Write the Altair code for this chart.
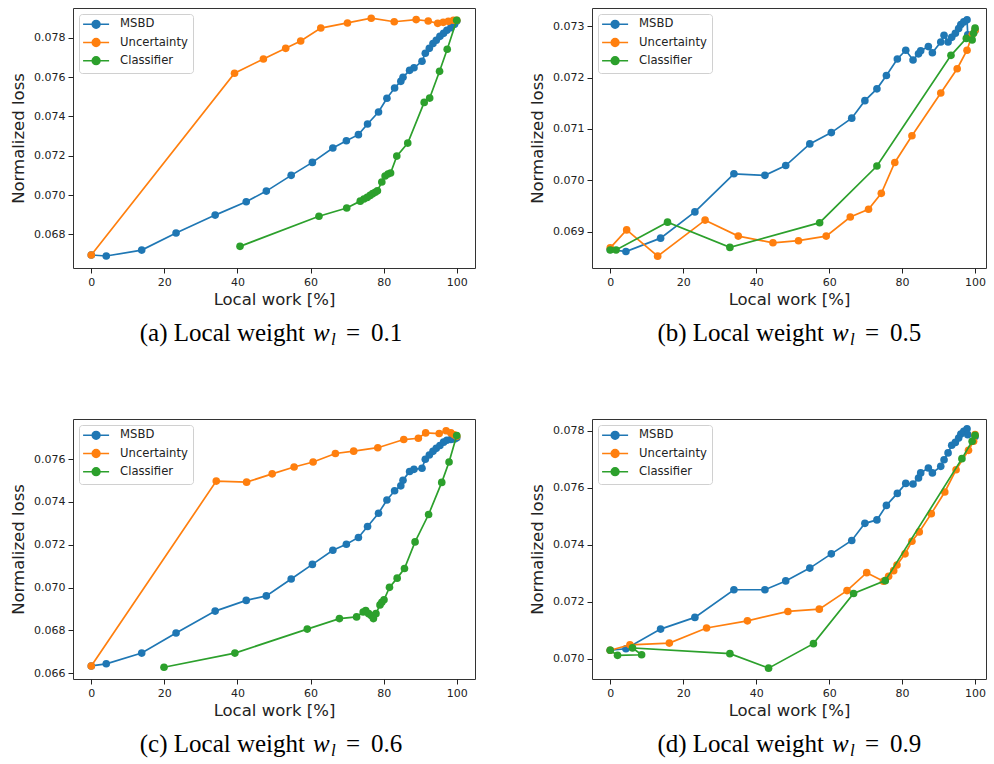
import altair as alt
import pandas as pd

SERIES = ["MSBD", "Uncertainty", "Classifier"]
COLORS = ["#1f77b4", "#ff7f0e", "#2ca02c"]
WEIGHTS = ["0.1", "0.5", "0.6", "0.9"]
LETTERS = ["a", "b", "c", "d"]
X_TICKS = [0, 20, 40, 60, 80, 100]

# ---------- panel (a): w_l = 0.1 ----------
a_msbd_x = [0, 4.1, 13.8, 23.2, 33.9, 42.4, 47.9, 54.7, 60.5, 66.1, 69.8, 73.1, 75.6, 78.6, 80.9, 83.0,
            84.7, 85.3, 87.1, 88.3, 90.5, 91.4, 92.5, 93.5, 94.4, 95.4, 96.4, 97.3, 98.4, 99.4, 100]
a_msbd_y = [0.06695, 0.06690, 0.06720, 0.06807, 0.06898, 0.06966, 0.07020, 0.07100, 0.07166, 0.07239,
            0.07276, 0.07307, 0.07361, 0.07422, 0.07492, 0.07544, 0.07578, 0.07599, 0.07634, 0.07647,
            0.07680, 0.07721, 0.07746, 0.07770, 0.07787, 0.07807, 0.07822, 0.07838, 0.07851, 0.07868, 0.07885]
a_unc_x = [0, 39.2, 47.1, 53.2, 57.3, 62.8, 70.1, 76.6, 82.9, 88.9, 92.2, 94.8, 96.3, 97.7, 99.1, 100]
a_unc_y = [0.06695, 0.07619, 0.07692, 0.07746, 0.07783, 0.07849, 0.07875, 0.07899, 0.07881, 0.07892,
           0.07885, 0.07873, 0.07878, 0.07883, 0.07889, 0.07889]
a_cls_x = [40.7, 62.3, 69.9, 73.6, 74.6, 75.5, 76.3, 77.0, 77.7, 78.3, 79.5, 80.4, 81.2, 81.9, 83.6, 86.6,
           91.1, 92.6, 95.3, 97.4, 100]
a_cls_y = [0.06739, 0.06892, 0.06934, 0.06969, 0.06980, 0.06988, 0.06998, 0.07007, 0.07014, 0.07022,
           0.07066, 0.07097, 0.07107, 0.07112, 0.07198, 0.07264, 0.07471, 0.07493, 0.07629, 0.07741, 0.07889]

# ---------- panel (b): w_l = 0.5 ----------
b_msbd_x = [0, 4.3, 13.8, 23.2, 33.9, 42.4, 48.1, 54.7, 60.6, 66.2, 69.8, 73.1, 75.7, 78.7, 81.0, 83.0,
            84.5, 85.1, 87.2, 88.3, 90.6, 91.5, 92.6, 93.6, 94.6, 95.5, 96.1, 96.9, 97.8, 98.0, 100]
b_msbd_y = [0.06866, 0.06862, 0.06888, 0.06939, 0.07013, 0.07010, 0.07029, 0.07071, 0.07093, 0.07121,
            0.07155, 0.07178, 0.07204, 0.07236, 0.07253, 0.07234, 0.07246, 0.07252, 0.07260, 0.07248,
            0.07269, 0.07282, 0.07269, 0.07278, 0.07286, 0.07295, 0.07303, 0.07308, 0.07312, 0.07283, 0.07292]
b_unc_x = [0, 4.5, 13.0, 26.0, 35.1, 44.6, 51.6, 59.2, 65.8, 70.8, 74.3, 78.0, 82.7, 90.6, 95.1, 97.8, 99.2, 100]
b_unc_y = [0.06869, 0.06904, 0.06853, 0.06923, 0.06892, 0.06879, 0.06883, 0.06892, 0.06929, 0.06944,
           0.06975, 0.07035, 0.07087, 0.07170, 0.07217, 0.07253, 0.07283, 0.07292]
b_cls_x = [0, 1.6, 15.7, 32.8, 57.4, 73.1, 93.4, 97.6, 99.2, 99.6, 100]
b_cls_y = [0.06865, 0.06865, 0.06919, 0.06870, 0.06918, 0.07028, 0.07243, 0.07276, 0.07273, 0.07286, 0.07296]

# ---------- panel (c): w_l = 0.6 ----------
c_msbd_x = a_msbd_x
c_msbd_y = [0.06634, 0.06644, 0.06694, 0.06788, 0.06890, 0.06940, 0.06961, 0.07040, 0.07108, 0.07174,
            0.07202, 0.07234, 0.07285, 0.07347, 0.07409, 0.07452, 0.07475, 0.07501, 0.07542, 0.07552,
            0.07557, 0.07599, 0.07619, 0.07636, 0.07650, 0.07663, 0.07679, 0.07688, 0.07691, 0.07694, 0.07699]
c_unc_x = [0, 34.2, 42.5, 49.5, 55.5, 60.7, 66.8, 71.8, 78.4, 85.5, 89.5, 91.5, 95.2, 97.1, 98.4, 99.3, 100]
c_unc_y = [0.06634, 0.07497, 0.07492, 0.07531, 0.07563, 0.07586, 0.07626, 0.07637, 0.07653, 0.07691,
           0.07697, 0.07722, 0.07719, 0.07732, 0.07722, 0.07713, 0.07707]
c_cls_x = [19.9, 39.3, 59.1, 67.9, 72.6, 74.4, 75.1, 75.9, 76.6, 77.2, 77.9, 79.0, 79.5, 80.1, 81.6, 83.7,
           85.7, 88.6, 92.3, 95.9, 97.9, 100]
c_cls_y = [0.06628, 0.06694, 0.06806, 0.06855, 0.06863, 0.06886, 0.06892, 0.06878, 0.06869, 0.06855,
           0.06878, 0.06919, 0.06931, 0.06943, 0.07001, 0.07044, 0.07089, 0.07213, 0.07341, 0.07491,
           0.07586, 0.07710]

# ---------- panel (d): w_l = 0.9 ----------
d_msbd_x = b_msbd_x
d_msbd_y = [0.07030, 0.07035, 0.07104, 0.07145, 0.07242, 0.07242, 0.07273, 0.07318, 0.07368, 0.07415,
            0.07475, 0.07487, 0.07538, 0.07580, 0.07615, 0.07613, 0.07634, 0.07652, 0.07669, 0.07652,
            0.07675, 0.07698, 0.07722, 0.07749, 0.07759, 0.07774, 0.07788, 0.07798, 0.07807, 0.07786, 0.07780]
d_unc_x = [0, 5.4, 16.2, 26.4, 37.6, 48.7, 57.3, 64.9, 70.3, 74.9, 76.3, 77.7, 78.6, 80.8, 82.7, 84.7,
           88.0, 91.7, 94.8, 98.2, 99.6, 100]
d_unc_y = [0.07030, 0.07049, 0.07055, 0.07108, 0.07133, 0.07166, 0.07174, 0.07239, 0.07302, 0.07272,
           0.07289, 0.07309, 0.07329, 0.07368, 0.07412, 0.07445, 0.07509, 0.07585, 0.07663, 0.07731,
           0.07763, 0.07786]
d_cls_x = [0, 2.0, 8.6, 6.1, 32.8, 43.4, 55.7, 66.7, 75.4, 96.4, 99.2, 100]
d_cls_y = [0.07030, 0.07012, 0.07014, 0.07038, 0.07018, 0.06967, 0.07053, 0.07229, 0.07274, 0.07702,
           0.07763, 0.07784]

# axis settings per panel
y_domains = [[0.06629, 0.07951], [0.06830, 0.07335], [0.06573, 0.07787], [0.06929, 0.07841]]
y_ticks = [[0.068, 0.070, 0.072, 0.074, 0.076, 0.078],
           [0.069, 0.070, 0.071, 0.072, 0.073],
           [0.066, 0.068, 0.070, 0.072, 0.074, 0.076],
           [0.070, 0.072, 0.074, 0.076, 0.078]]
x_domains = [[-5, 105], [-5, 103], [-5, 105], [-5, 103]]
widths = [402, 394, 402, 394]
HEIGHT = 260

panel_data = [
    [(a_msbd_x, a_msbd_y), (a_unc_x, a_unc_y), (a_cls_x, a_cls_y)],
    [(b_msbd_x, b_msbd_y), (b_unc_x, b_unc_y), (b_cls_x, b_cls_y)],
    [(c_msbd_x, c_msbd_y), (c_unc_x, c_unc_y), (c_cls_x, c_cls_y)],
    [(d_msbd_x, d_msbd_y), (d_unc_x, d_unc_y), (d_cls_x, d_cls_y)],
]


# legend symbol: a line with a filled dot (dot drawn as concentric stroked rings)
def legend_path():
    cx = 1.51
    parts = ["M-1.38,0L4.4,0"]
    for r in (0.173, 0.404, 0.636, 0.867):
        parts.append(f"M{cx - r:.3f},0A{r},{r},0,1,1,{cx + r:.3f},0A{r},{r},0,1,1,{cx - r:.3f},0")
    return "".join(parts)


legend = alt.Legend(title=None, orient="none", legendX=6, legendY=6, padding=4.5,
                    fillColor="white", strokeColor="#d0d0d0", cornerRadius=3,
                    symbolType=legend_path(), symbolSize=81, symbolStrokeWidth=1.5,
                    labelFont="DejaVu Sans", labelFontSize=11.6, labelColor="#222",
                    labelOffset=25, rowPadding=3.2)

cap_df = pd.DataFrame({"k": [0]})


def make_panel(i):
    rows = []
    for s, (xs, ys) in zip(SERIES, panel_data[i]):
        for j, (xv, yv) in enumerate(zip(xs, ys)):
            rows.append({"series": s, "work": xv, "loss": yv, "idx": j})
    df = pd.DataFrame(rows)
    xenc = alt.X("work:Q", scale=alt.Scale(domain=x_domains[i], nice=False, zero=False),
                 axis=alt.Axis(values=X_TICKS, title="Local work [%]"))
    yenc = alt.Y("loss:Q", scale=alt.Scale(domain=y_domains[i], nice=False, zero=False),
                 axis=alt.Axis(values=y_ticks[i], format=".3f", title="Normalized loss"))
    cscale = alt.Scale(domain=SERIES, range=COLORS)
    layers = []
    for k, s in enumerate(SERIES):
        base = alt.Chart(df).transform_filter(alt.datum.series == s)
        line = base.mark_line(strokeWidth=1.7).encode(
            x=xenc, y=yenc, order="idx:Q",
            color=alt.Color("series:N", scale=cscale, legend=legend if k == 0 else None))
        pts = base.mark_circle(size=58, opacity=1).encode(
            x=xenc, y=yenc,
            color=alt.Color("series:N", scale=cscale, legend=None))
        layers += [line, pts]
    cap = alt.Chart(cap_df)
    font = "Liberation Serif"
    layers.append(cap.mark_text(text=f"({LETTERS[i]}) Local weight", align="right", baseline="alphabetic",
                                font=font, fontSize=25, color="black")
                  .encode(x=alt.value(232), y=alt.value(333)))
    layers.append(cap.mark_text(text="w", align="left", baseline="alphabetic", font=font, fontSize=25,
                                fontStyle="italic", color="black")
                  .encode(x=alt.value(240), y=alt.value(333)))
    layers.append(cap.mark_text(text="l", align="left", baseline="alphabetic", font=font, fontSize=17,
                                fontStyle="italic", color="black")
                  .encode(x=alt.value(258), y=alt.value(337)))
    layers.append(cap.mark_text(text="=", align="left", baseline="alphabetic", font=font,
                                fontSize=25, color="black")
                  .encode(x=alt.value(273), y=alt.value(333)))
    layers.append(cap.mark_text(text=WEIGHTS[i], align="left", baseline="alphabetic", font=font,
                                fontSize=25, color="black")
                  .encode(x=alt.value(298), y=alt.value(333)))
    return alt.layer(*layers).properties(width=widths[i], height=HEIGHT)


panels = [make_panel(i) for i in range(4)]

row1 = alt.hconcat(panels[0], panels[1], spacing=53).resolve_scale(
    color="independent", x="independent", y="independent").resolve_legend(color="independent")
row2 = alt.hconcat(panels[2], panels[3], spacing=53).resolve_scale(
    color="independent", x="independent", y="independent").resolve_legend(color="independent")

chart = (
    alt.vconcat(row1, row2, spacing=69)
    .resolve_scale(color="independent", x="independent", y="independent")
    .resolve_legend(color="independent")
    .properties(padding={"left": 10, "top": 7, "right": 0, "bottom": 0}, background="white")
    .configure_view(stroke="#333", strokeWidth=1)
    .configure_axis(labelFont="DejaVu Sans", labelFontSize=11, labelColor="#222",
                    titleFont="DejaVu Sans", titleFontSize=16.5, titleFontWeight="normal",
                    titleColor="#222", tickColor="#222", tickSize=5, domain=False, grid=False,
                    labelPadding=3)
    .configure_axisX(titlePadding=4)
    .configure_axisY(titlePadding=7)
)

chart.save("out.html", embed_options={"renderer": "svg", "actions": False})
